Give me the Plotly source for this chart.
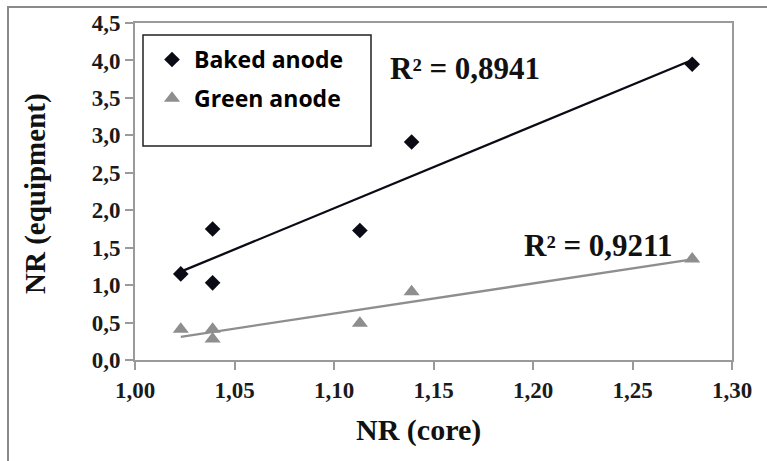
import numpy as np
import plotly.graph_objects as go

# Data
baked_x = [1.023, 1.039, 1.039, 1.113, 1.139, 1.280]
baked_y = [1.15, 1.75, 1.03, 1.73, 2.91, 3.95]
green_x = [1.023, 1.039, 1.039, 1.113, 1.139, 1.280]
green_y = [0.41, 0.41, 0.28, 0.49, 0.91, 1.35]
r2_labels = ["R² = 0,8941", "R² = 0,9211"]
series_names = ["Baked anode", "Green anode"]
x_ticks = [1.00, 1.05, 1.10, 1.15, 1.20, 1.25, 1.30]
y_ticks = [0.0, 0.5, 1.0, 1.5, 2.0, 2.5, 3.0, 3.5, 4.0, 4.5]

BLACK = "#0b0b16"
GRAY = "#8e8e8e"
SERIF = "Liberation Serif, Times New Roman, serif"


def fit_line(xs, ys):
    k, b = np.polyfit(xs, ys, 1)
    xx = np.array([min(xs), max(xs)])
    return xx, k * xx + b


fig = go.Figure()

bx, by = fit_line(baked_x, baked_y)
gx, gy = fit_line(green_x, green_y)

fig.add_trace(go.Scatter(x=bx, y=by, mode="lines", line=dict(color=BLACK, width=2.3),
                         showlegend=False, hoverinfo="skip"))
fig.add_trace(go.Scatter(x=gx, y=gy, mode="lines", line=dict(color=GRAY, width=2.3),
                         showlegend=False, hoverinfo="skip"))

fig.add_trace(go.Scatter(x=baked_x, y=baked_y, mode="markers", name=series_names[0],
                         legendgroup="a",
                         marker=dict(symbol="diamond", size=12, color=BLACK)))
fig.add_trace(go.Scatter(x=green_x, y=green_y, mode="markers", name=series_names[1],
                         legendgroup="b",
                         marker=dict(symbol="triangle-up", size=14, color=GRAY)))

L, R, T, B = 135, 35, 23, 101
W, H = 767, 461
pw, ph = W - L - R, H - T - B


def px(xpix):
    return (xpix - L) / pw


def py(ypix):
    return 1 - (ypix - T) / ph


tick_font = dict(family=SERIF, size=23, color="#1a1a1a", weight="bold")

fig.update_layout(
    width=W, height=H,
    margin=dict(l=L, r=R, t=T, b=B),
    paper_bgcolor="white", plot_bgcolor="white",
    separators=",.",
    showlegend=True,
    legend=dict(x=px(150), y=py(38), xanchor="left", yanchor="top",
                bgcolor="rgba(0,0,0,0)", borderwidth=0,
                tracegroupgap=6, itemwidth=34,
                font=dict(family="Open Sans", size=23, color="#000", weight="bold")),
    xaxis=dict(range=[1.0, 1.3], tickvals=x_ticks, tickformat=".2f",
               showgrid=False, zeroline=False,
               showline=True, linecolor="#9a9a9a", linewidth=2, mirror=True,
               ticks="outside", ticklen=8, tickcolor="#9a9a9a", tickwidth=2,
               tickfont=tick_font),
    yaxis=dict(range=[0, 4.5], tickvals=y_ticks, tickformat=".1f",
               showgrid=False, zeroline=False,
               showline=True, linecolor="#9a9a9a", linewidth=2, mirror=True,
               ticks="outside", ticklen=8, tickcolor="#9a9a9a", tickwidth=2,
               tickfont=tick_font),
    shapes=[
        dict(type="rect", xref="paper", yref="paper",
             x0=px(143), x1=px(371), y0=py(146), y1=py(35),
             line=dict(color="#222", width=1.5), fillcolor="rgba(0,0,0,0)"),
        dict(type="rect", xref="paper", yref="paper",
             x0=px(8), x1=px(775), y0=py(470), y1=py(7),
             line=dict(color="#8a8a8a", width=2), fillcolor="rgba(0,0,0,0)"),
    ],
    annotations=[
        dict(text=r2_labels[0], xref="paper", yref="paper", x=px(388), y=py(68),
             xanchor="left", yanchor="middle", showarrow=False,
             font=dict(family=SERIF, size=31, color="#111", weight="bold")),
        dict(text=r2_labels[1], xref="paper", yref="paper", x=px(522), y=py(245),
             xanchor="left", yanchor="middle", showarrow=False,
             font=dict(family=SERIF, size=31, color="#111", weight="bold")),
        dict(text="NR (core)", xref="paper", yref="paper", x=px(418), y=py(430),
             xanchor="center", yanchor="middle", showarrow=False,
             font=dict(family=SERIF, size=30, color="#111", weight="bold")),
        dict(text="NR (equipment)", xref="paper", yref="paper", x=px(35), y=py(193),
             xanchor="center", yanchor="middle", showarrow=False, textangle=-90,
             font=dict(family=SERIF, size=29, color="#111", weight="bold")),
    ],
)

fig.write_html("out.html",
               config={"displayModeBar": False},
               post_script="document.body.style.margin='0';document.body.style.padding='0';")
